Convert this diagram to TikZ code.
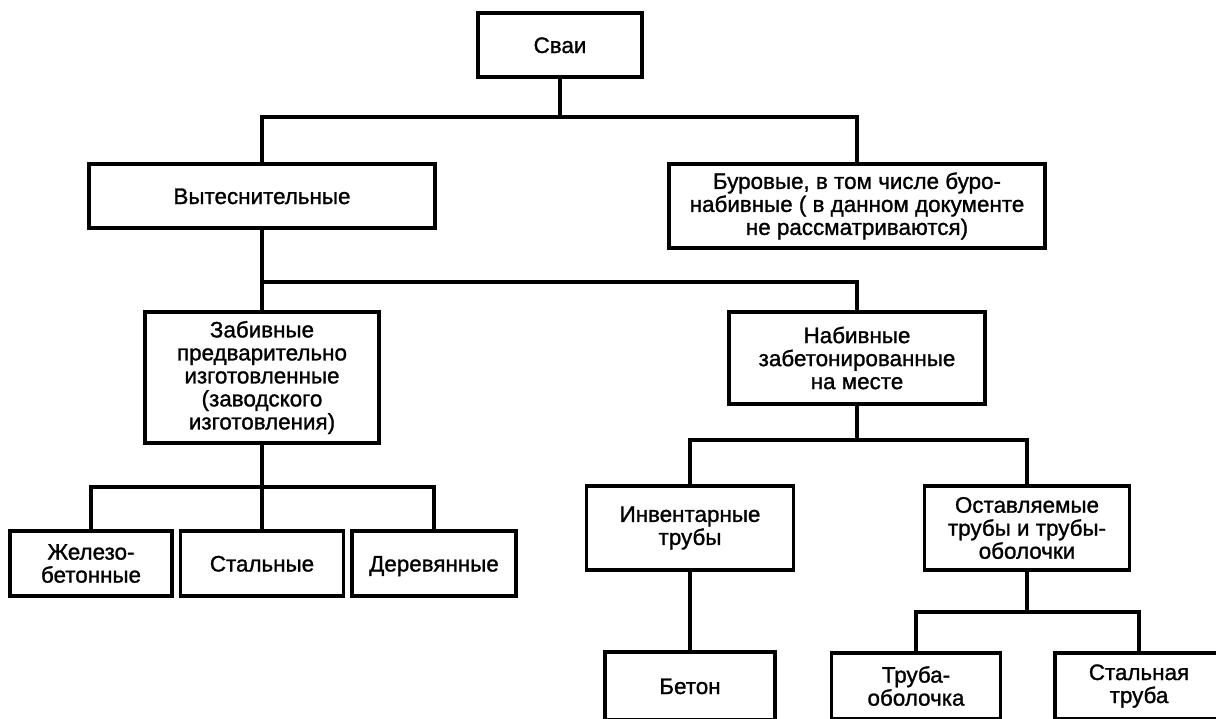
\documentclass[tikz,border=0pt]{standalone}
\usepackage{fontspec}
\setmainfont{Liberation Sans}
\newfontfamily\boxfont{Liberation Sans}[FakeBold=1.2]
\begin{document}
\begin{tikzpicture}[x=0.5pt,y=-0.5pt,
  box/.style={draw=black,line width=1.6pt,fill=white,inner sep=0pt,align=center,
    font=\boxfont\fontsize{11.2pt}{11.5pt}\selectfont},
  single/.style={text height=8pt,text depth=0pt},
  conn/.style={line width=1.6pt,line join=miter}]
\clip (0,0) rectangle (1216,718);
\fill[white] (0,0) rectangle (1216,718);
% nodes
\node[box,single,minimum width=82pt,minimum height=32pt] (svai) at (560,45) {Сваи};
\node[box,single,minimum width=173pt,minimum height=32pt] (vyt) at (262,196) {Вытеснительные};
\node[box,minimum width=188pt,minimum height=42pt] (bur) at (857,206) {Буровые, в том числе буро-\\набивные ( в данном документе\\не рассматриваются)};
\node[box,minimum width=117pt,minimum height=65.5pt] (zab) at (262,377.5) {Забивные\\предварительно\\изготовленные\\(заводского\\изготовления)};
\node[box,minimum width=128pt,minimum height=46pt] (nab) at (857,358) {Набивные\\забетонированные\\на месте};
\node[box,minimum width=81pt,minimum height=32.5pt] (zhel) at (91,563.5) {Железо-\\бетонные};
\node[box,single,minimum width=81.5pt,minimum height=32.5pt] (stal) at (262,563.5) {Стальные};
\node[box,single,minimum width=82pt,minimum height=32.5pt] (der) at (434,563.5) {Деревянные};
\node[box,minimum width=103.5pt,minimum height=42pt] (inv) at (690,528) {Инвентарные\\трубы};
\node[box,minimum width=102.5pt,minimum height=42pt] (ost) at (1027,528) {Оставляемые\\трубы и трубы-\\оболочки};
\node[box,single,minimum width=85pt,minimum height=34pt] (beton) at (690,686) {Бетон};
\node[box,minimum width=84.5pt,minimum height=33pt] (truba) at (916,686) {Труба-\\оболочка};
\node[box,minimum width=84pt,minimum height=33pt] (stt) at (1139,686) {Стальная\\труба};
% junctions
\coordinate (j1) at (560,117);
\coordinate (j2) at (262,282);
\coordinate (j3) at (857,440);
\coordinate (j4) at (1027,612);
\coordinate (j5) at (262,487);
% connectors
\draw[conn] (svai.south) -- (j1);
\draw[conn] (vyt.north) |- (j1) -| (bur.north);
\draw[conn] (vyt.south) -- (zab.north);
\draw[conn] (j2) -| (nab.north);
\draw[conn] (zab.south) -- (stal.north);
\draw[conn] (zhel.north) |- (j5) -| (der.north);
\draw[conn] (nab.south) -- (j3);
\draw[conn] (inv.north) |- (j3) -| (ost.north);
\draw[conn] (inv.south) -- (beton.north);
\draw[conn] (ost.south) -- (j4);
\draw[conn] (truba.north) |- (j4) -| (stt.north);
\end{tikzpicture}
\end{document}
